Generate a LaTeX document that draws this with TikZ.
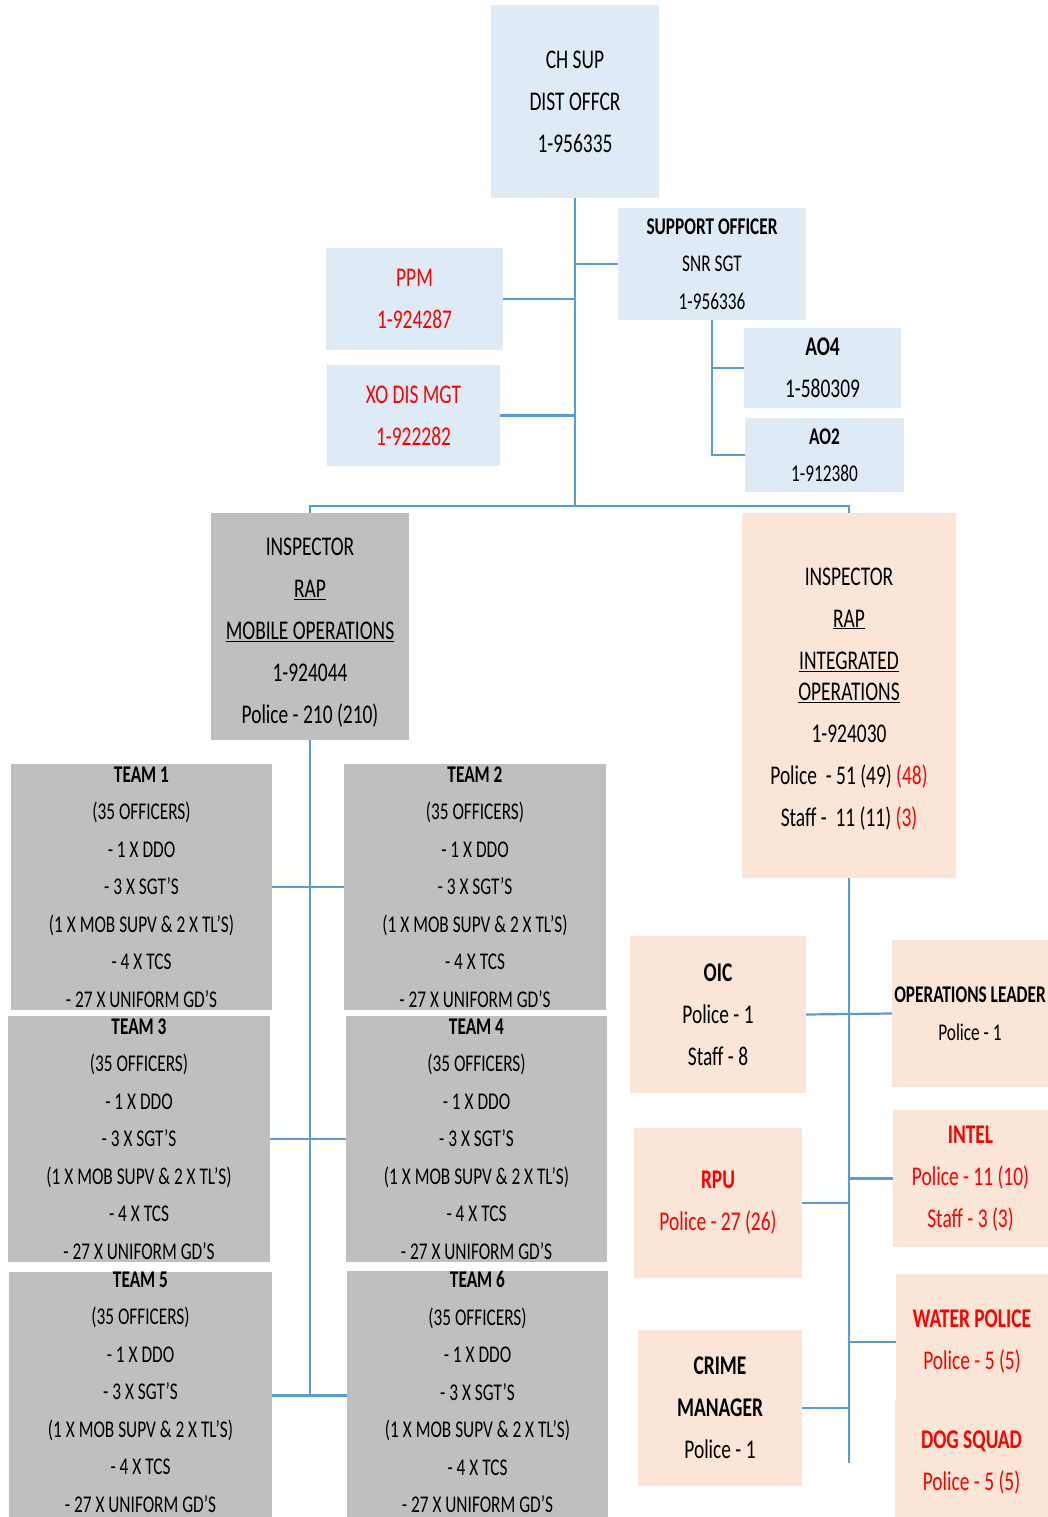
\documentclass[tikz,border=0pt]{standalone}
\usepackage{fontspec}
\setmainfont{Carlito}[FakeStretch=0.72]
\definecolor{boxblue}{HTML}{DEEBF7}
\definecolor{boxgrey}{HTML}{BFBFBF}
\definecolor{boxpeach}{HTML}{FBE5D6}
\definecolor{linkblue}{HTML}{5B9BD5}
\definecolor{txtred}{HTML}{FF0000}
\newcommand{\teamtext}[2][0pt]{\textbf{TEAM #2}\\(35 OFFICERS)\\- 1 X DDO\\- 3 X SGT'S\\(1 X MOB SUPV \& 2 X TL'S)\\- 4 X TCS\\- 27 X UNIFORM GD'S\rule[-#1]{0pt}{0pt}}
\begin{document}
\begin{tikzpicture}[x=1pt,y=-1pt,
  box/.style={rectangle,inner sep=0pt,align=center,text=black,font=\fontsize{27}{42}\selectfont},
  small/.style={font=\fontsize{24}{37.5}\selectfont},
  bluebox/.style={box,fill=boxblue},
  greybox/.style={box,fill=boxgrey},
  peachbox/.style={box,fill=boxpeach},
  teambox/.style={greybox,small,minimum height=246},
  redtext/.style={text=txtred},
  link/.style={draw=linkblue,line width=2.2pt}]
\useasboundingbox (0,0) rectangle (1048,1517);
\clip (0,0) rectangle (1048,1517);
\node[bluebox,minimum width=168,minimum height=193] (chsup) at (575,101.5) {CH SUP\\DIST OFFCR\\1-956335};
\node[bluebox,small,minimum width=188,minimum height=112] (support) at (712,264) {\textbf{SUPPORT OFFICER}\\SNR SGT\\1-956336};
\node[bluebox,redtext,minimum width=177,minimum height=102] (ppm) at (414.5,299) {PPM\\1-924287};
\node[bluebox,redtext,minimum width=173,minimum height=101] (xo) at (413.5,415.5) {XO DIS MGT\\1-922282};
\node[bluebox,minimum width=157,minimum height=80] (aofour) at (822.5,368) {\textbf{AO4}\\1-580309};
\node[bluebox,small,minimum width=159,minimum height=74] (aotwo) at (824.5,455) {\textbf{AO2}\\1-912380};
\node[greybox,minimum width=198,minimum height=227] (insmob) at (310,626.5) {\rule{0pt}{30pt}INSPECTOR\\\underline{RAP}\\\underline{MOBILE OPERATIONS}\\1-924044\\Police - 210 (210)};
\node[peachbox,minimum width=214,minimum height=365] (insint) at (849,695.5) {\rule{0pt}{24pt}INSPECTOR\\\underline{RAP}\\\underline{INTEGRATED}\\[-11pt]\underline{OPERATIONS}\\1-924030\\Police~ - 51 (49) \textcolor{txtred}{(48)}\\Staff - ~11 (11) \textcolor{txtred}{(3)}};
\node[teambox,minimum width=261] (team1) at (141.5,887) {\teamtext{1}};
\node[teambox,minimum width=262] (team2) at (475,887) {\teamtext{2}};
\node[teambox,minimum width=262] (team3) at (139,1139) {\teamtext{3}};
\node[teambox,minimum width=261] (team4) at (476.5,1139) {\teamtext{4}};
\node[teambox,minimum width=263,minimum height=243] (team5) at (140.5,1395.5) {\teamtext[7pt]{5}};
\node[teambox,minimum width=261,minimum height=243] (team6) at (477.5,1395.5) {\teamtext[7pt]{6}};
\node[peachbox,minimum width=176,minimum height=157] (oic) at (718,1014.5) {\textbf{OIC}\\Police - 1\\Staff - 8};
\node[peachbox,small,minimum width=156,minimum height=147] (opslead) at (970,1013.5) {\textbf{OPERATIONS LEADER}\\Police - 1};
\node[peachbox,redtext,minimum width=155,minimum height=137] (intel) at (970.5,1178.5) {\textbf{INTEL}\\Police - 11 (10)\\Staff - 3 (3)};
\node[peachbox,redtext,minimum width=168,minimum height=150] (rpu) at (718,1203) {\textbf{RPU}\\Police - 27 (26)};
\node[peachbox,redtext,minimum width=152,minimum height=136] (water) at (972,1342) {\textbf{WATER POLICE}\\Police - 5 (5)};
\node[peachbox,redtext,minimum width=153,minimum height=126] (dog) at (971.5,1463) {\textbf{DOG SQUAD}\\Police - 5 (5)};
\node[peachbox,minimum width=164,minimum height=156] (crime) at (720,1408) {\textbf{CRIME}\\\textbf{MANAGER}\\Police - 1};
\coordinate (bus) at (575,506);
\draw[link] (chsup.south) -- (bus);
\draw[link] (insmob.north) |- (bus) -| (insint.north);
\draw[link] (ppm.east) -- (ppm.east -| bus);
\draw[link] (xo.east) -- (xo.east -| bus);
\draw[link] (support.west) -- (support.west -| bus);
\draw[link] (support.south) |- (aotwo.west);
\draw[link] (aofour.west) -- (aofour.west -| support.south);
\draw[link] (insmob.south) -- (insmob.south |- team5.east);
\draw[link] (team1.east) -- (team2.west);
\draw[link] (team3.east) -- (team4.west);
\draw[link] (team5.east) -- (team6.west);
\draw[link] (insint.south) -- (insint.south |- dog.west);
\draw[link] (oic.east) -- (opslead.west);
\draw[link] (rpu.east) -- (rpu.east -| insint.south);
\draw[link] (intel.west) -- (intel.west -| insint.south);
\draw[link] (water.west) -- (water.west -| insint.south);
\draw[link] (crime.east) -- (crime.east -| insint.south);
\end{tikzpicture}
\end{document}
